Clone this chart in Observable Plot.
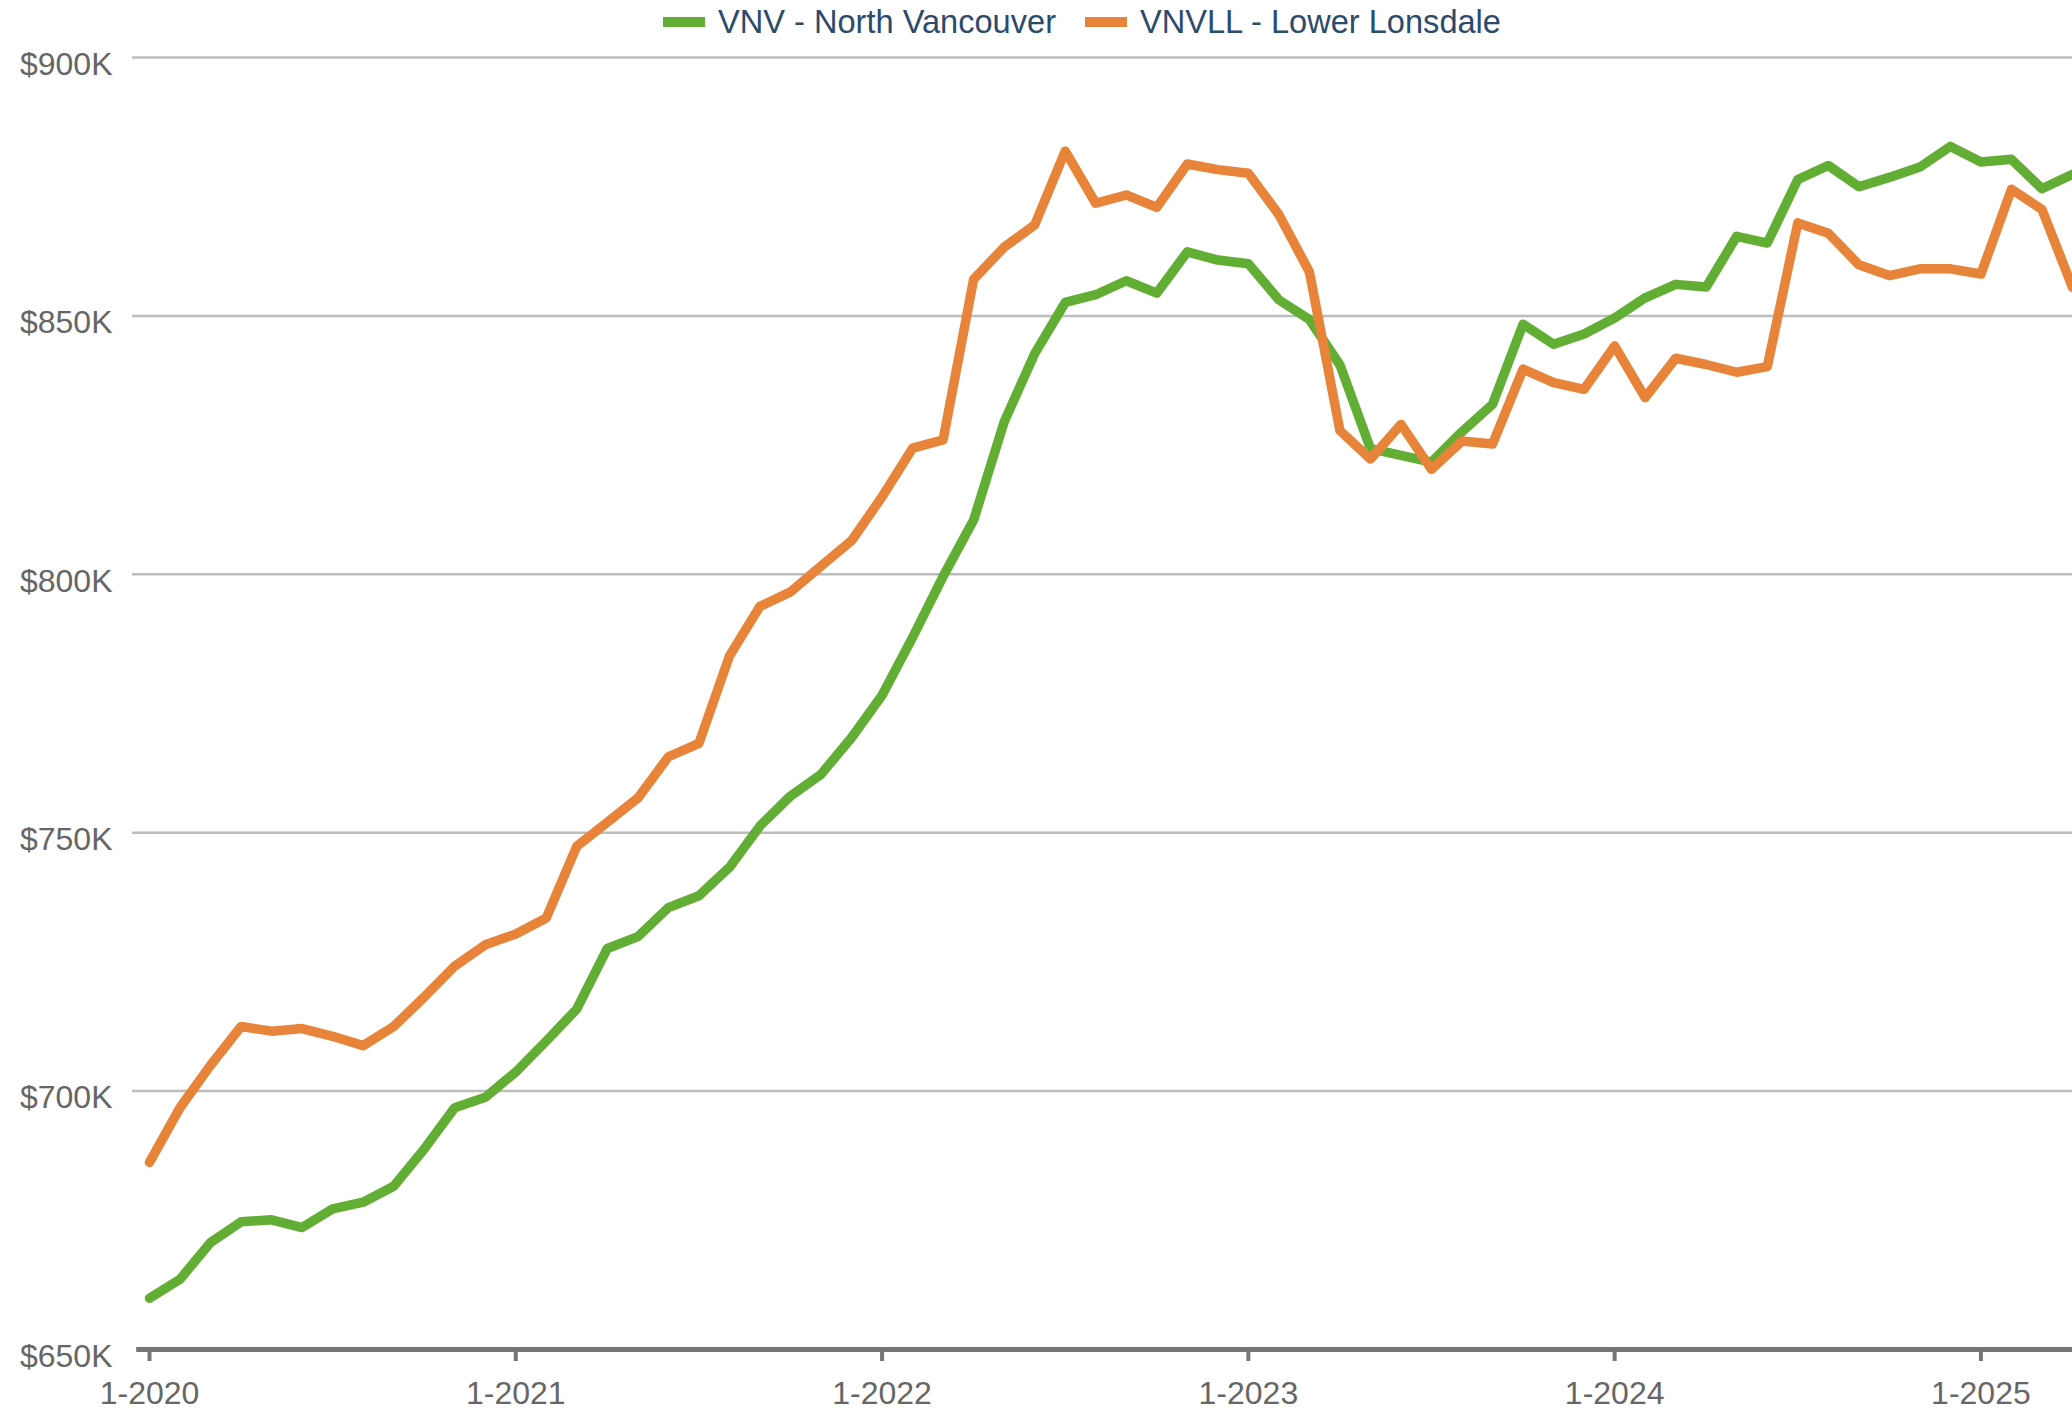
<!DOCTYPE html>
<html>
<head>
<meta charset="utf-8">
<script src="https://cdn.jsdelivr.net/npm/d3@7"></script>
<script src="https://cdn.jsdelivr.net/npm/@observablehq/plot@0.6"></script>
<style>
  html, body { margin: 0; padding: 0; background: #fff; }
  body { font-family: "Liberation Sans", Arial, Helvetica, sans-serif; width: 2072px; }
  #legend { height: 44px; display: flex; align-items: center; padding-left: 663px; font-size: 32.6px; color: #2c4a6b; box-sizing: border-box; }
  .item { display: flex; align-items: center; margin-right: 29px; }
  .sw { width: 42px; height: 10px; margin-right: 13px; }
  #chart svg { display: block; }
</style>
</head>
<body>
<div id="legend"></div>
<div id="chart"></div>
<script>
// Series names and colours
const seriesNames = ["VNV - North Vancouver", "VNVLL - Lower Lonsdale"];
const seriesColors = ["#62ae34", "#e8843a"];

// Monthly values, Jan 2020 .. Apr 2025 (in $K)
const vnv = [659.9, 663.6, 670.7, 674.7, 675.1, 673.6, 677.2, 678.5, 681.6, 688.8, 696.8, 698.8,
             703.7, 709.7, 715.9, 727.6, 729.9, 735.5, 737.8, 743.3, 751.3, 757.1, 761.3, 768.4,
             776.6, 787.8, 799.6, 810.5, 829.5, 842.7, 852.6, 854.1, 856.8, 854.4, 862.4, 860.8,
             860.1, 853.1, 849.3, 840.5, 824.3, 823.0, 821.7, 827.6, 832.9, 848.4, 844.5, 846.5,
             849.6, 853.5, 856.1, 855.6, 865.4, 864.1, 876.4, 879.1, 875.0, 876.8, 878.8, 882.8,
             879.8, 880.3, 874.6, 877.4];
const vnvll = [686.2, 696.8, 705.0, 712.5, 711.6, 712.1, 710.6, 708.8, 712.5, 718.2, 724.2, 728.3,
               730.4, 733.5, 747.4, 752.0, 756.7, 764.7, 767.3, 784.2, 793.8, 796.6, 801.6, 806.5,
               815.0, 824.4, 826.0, 857.1, 863.3, 867.6, 881.9, 871.8, 873.4, 871.0, 879.4, 878.3,
               877.6, 869.6, 858.5, 827.8, 822.3, 829.0, 820.3, 825.8, 825.2, 839.7, 837.1, 835.8,
               844.2, 834.2, 841.8, 840.6, 839.1, 840.2, 868.0, 866.0, 859.9, 857.8, 859.1, 859.1,
               858.1, 874.5, 870.6, 855.5];

// Axis ticks
const xTickMonths = [0, 12, 24, 36, 48, 60];
const xTickLabels = ["1-2020", "1-2021", "1-2022", "1-2023", "1-2024", "1-2025"];
const yTicks = [650000, 700000, 750000, 800000, 850000, 900000];
const yTickLabels = ["$650K", "$700K", "$750K", "$800K", "$850K", "$900K"];

const toRows = (arr) => arr.map((v, i) => ({ i, v: v * 1000 }));
const rowsVnv = toRows(vnv);
const rowsVnvll = toRows(vnvll);

// Legend (HTML, above the SVG)
const legend = document.getElementById("legend");
seriesNames.forEach((name, k) => {
  const it = document.createElement("div");
  it.className = "item";
  const sw = document.createElement("div");
  sw.className = "sw";
  sw.style.background = seriesColors[k];
  const tx = document.createElement("span");
  tx.textContent = name;
  it.appendChild(sw);
  it.appendChild(tx);
  legend.appendChild(it);
});

const chart = Plot.plot({
  width: 2072,
  height: 1366,
  marginTop: 13,
  marginBottom: 61,
  marginLeft: 132,
  marginRight: 0,
  style: { fontFamily: "Liberation Sans, Arial, Helvetica, sans-serif", fontSize: "32px", color: "#666", background: "#fff" },
  x: { domain: [-0.557, 63], label: null },
  y: { domain: [650000, 900000], label: null },
  marks: [
    Plot.ruleY(yTicks.slice(1), { stroke: "#bdbdbd", strokeWidth: 2.5 }),
    Plot.axisY({ ticks: yTicks, tickFormat: (d) => yTickLabels[yTicks.indexOf(d)], tickSize: 0, tickPadding: 20, fill: "#666", fontSize: 32, dy: 7, label: null }),
    Plot.ruleY([650000], { x1: -0.42, x2: 63, stroke: "#767676", strokeWidth: 5 }),
    Plot.axisX({ ticks: xTickMonths, tickFormat: (d) => xTickLabels[xTickMonths.indexOf(d)], tickSize: 12, tickPadding: 20, stroke: "#767676", strokeWidth: 4, fill: "#666", fontSize: 32, label: null }),
    Plot.line(rowsVnv, { x: "i", y: "v", stroke: seriesColors[0], strokeWidth: 9.5, strokeLinejoin: "round", strokeLinecap: "round" }),
    Plot.line(rowsVnvll, { x: "i", y: "v", stroke: seriesColors[1], strokeWidth: 9.5, strokeLinejoin: "round", strokeLinecap: "round" })
  ]
});
document.getElementById("chart").appendChild(chart);
</script>
</body>
</html>
